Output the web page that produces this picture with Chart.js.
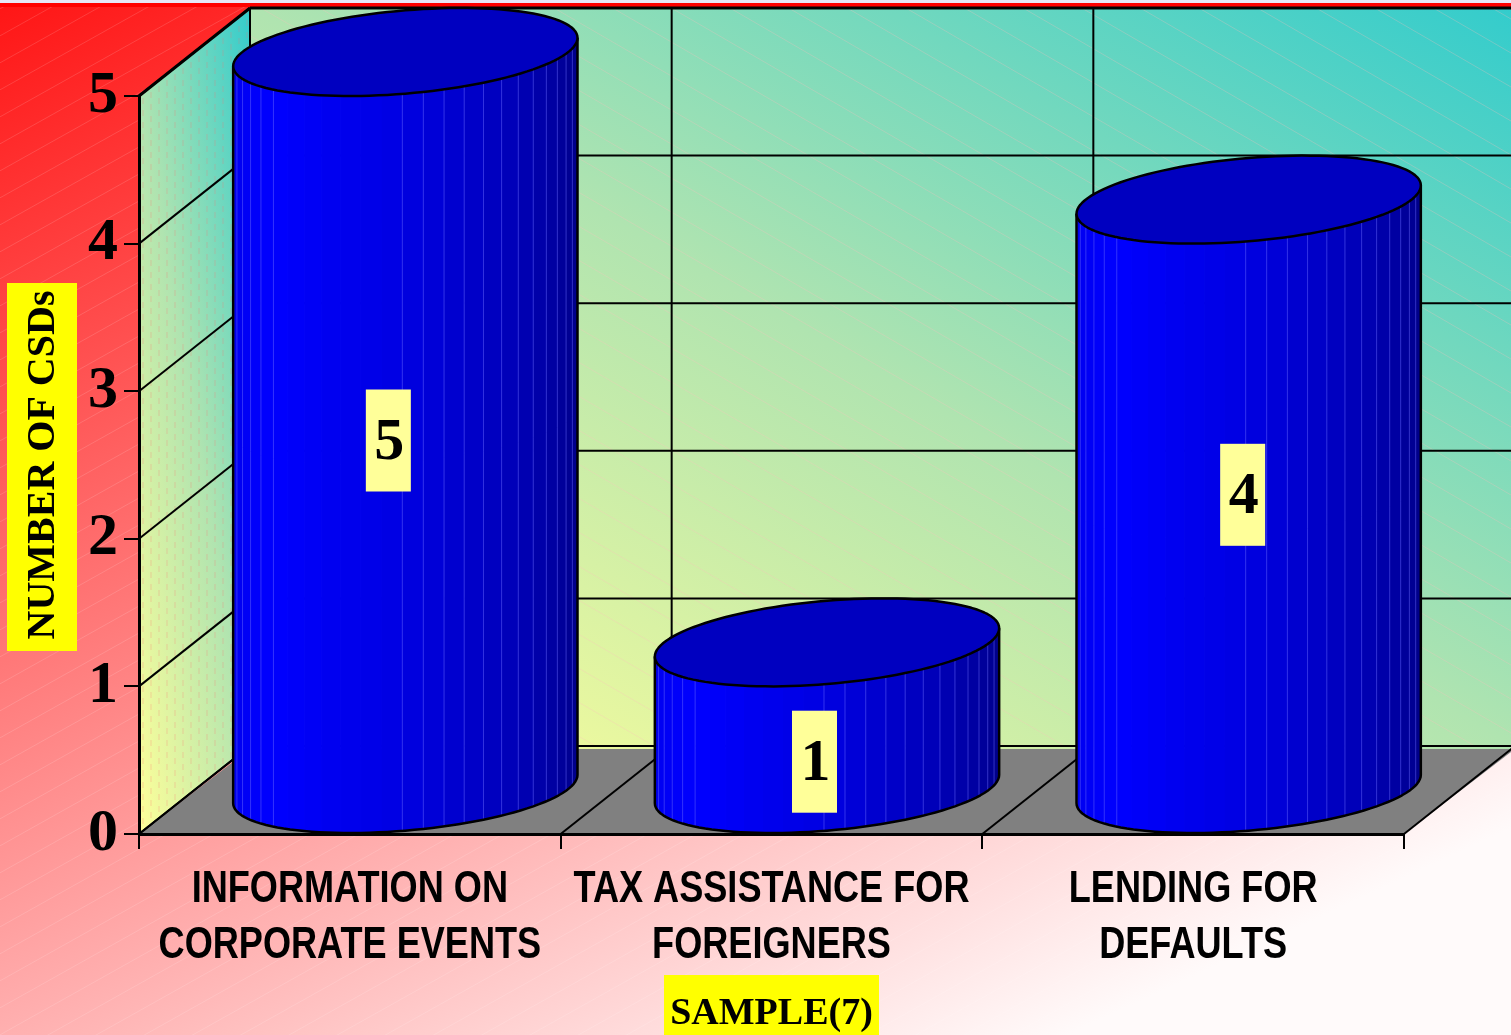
<!DOCTYPE html>
<html>
<head>
<meta charset="utf-8">
<style>html,body{margin:0;padding:0;background:#fff;overflow:hidden}canvas{display:block}</style>
<script src="https://cdn.jsdelivr.net/npm/chart.js@4"></script>
</head>
<body>
<canvas id="c" width="1511" height="1035"></canvas>
<script>
const categories = [
  ["INFORMATION ON", "CORPORATE EVENTS"],
  ["TAX ASSISTANCE FOR", "FOREIGNERS"],
  ["LENDING FOR", "DEFAULTS"]
];
const csdCounts = [5, 1, 4];
const yTickLabels = ["0", "1", "2", "3", "4", "5"];
const yAxisTitle = "NUMBER OF CSDs";
const xAxisTitle = "SAMPLE(7)";

const DEPTH_X = 111, DEPTH_Y = 88;
const LABEL_NUDGE = [[38.5, -24], [43, 2], [49.5, -43.5]];
const rad = d => d * Math.PI / 180;

function planeGradient(ctx, A, fAlongU, U, fAlongV, V, stops) {
  const det = U[0] * V[1] - U[1] * V[0];
  const gx = (fAlongU * V[1] - fAlongV * U[1]) / det;
  const gy = (U[0] * fAlongV - V[0] * fAlongU) / det;
  const n = gx * gx + gy * gy;
  const g = ctx.createLinearGradient(A[0], A[1], A[0] + gx / n, A[1] + gy / n);
  stops.forEach(s => g.addColorStop(s[0], s[1]));
  return g;
}
function poly(ctx, pts) {
  ctx.beginPath();
  pts.forEach((p, i) => i ? ctx.lineTo(p[0], p[1]) : ctx.moveTo(p[0], p[1]));
  ctx.closePath();
}
function hatch(ctx, w, h, slope, gap, color, lw) {
  ctx.save();
  ctx.strokeStyle = color; ctx.lineWidth = lw;
  for (let c = -Math.abs(slope) * w - h; c < h + Math.abs(slope) * w + h; c += gap) {
    ctx.beginPath();
    ctx.moveTo(0, c);
    ctx.lineTo(w, c + slope * w);
    ctx.stroke();
  }
  ctx.restore();
}

const scenePlugin = {
  id: "scene",
  beforeDraw(chart) {
    const { ctx, scales: { x, y }, width: W, height: H } = chart;
    const L = x.left, R = x.right, B = y.bottom, T = y.top;
    ctx.save();
    const bg = ctx.createLinearGradient(0, 0, 587, 1259);
    bg.addColorStop(0, "#ff1515");
    bg.addColorStop(1, "#fffafa");
    ctx.fillStyle = bg; ctx.fillRect(0, 0, W, H);
    hatch(ctx, W, H, -0.56, 27, "rgba(255,255,255,0.14)", 1);
    ctx.fillStyle = "#e6e6f6"; ctx.fillRect(0, 0, W, 3);
    ctx.fillStyle = "#ff0000"; ctx.fillRect(0, 3, W, 4);

    const stops = [[0, "#ffff99"], [0.5, "#b0e4b0"], [1, "#33cccc"]];
    const bx0 = L + DEPTH_X, bx1 = R + DEPTH_X, by0 = B - DEPTH_Y, by1 = T - DEPTH_Y;
    // left wall
    const lw = [[L, B], [L, T], [bx0, by1], [bx0, by0]];
    ctx.fillStyle = planeGradient(ctx, [L, B], 0.5, [0, T - B], 0.5, [DEPTH_X, -DEPTH_Y], stops);
    poly(ctx, lw); ctx.fill();
    ctx.save(); poly(ctx, lw); ctx.clip();
    ctx.strokeStyle = "rgba(255,110,110,0.28)"; ctx.lineWidth = 1; ctx.setLineDash([6, 6]);
    for (let px = L + 4; px < bx0; px += 8) {
      ctx.lineDashOffset = (px % 16 < 8) ? 0 : 6;
      ctx.beginPath(); ctx.moveTo(px, by1); ctx.lineTo(px, B); ctx.stroke();
    }
    ctx.restore();
    // back wall
    ctx.fillStyle = planeGradient(ctx, [bx0, by0], 0.5, [bx1 - bx0, 0], 0.5, [0, by1 - by0], stops);
    ctx.fillRect(bx0, by1, bx1 - bx0, by0 - by1 + 4);
    ctx.save(); ctx.beginPath(); ctx.rect(bx0, by1, bx1 - bx0, by0 - by1); ctx.clip();
    hatch(ctx, W, H, 0.58, 34, "rgba(255,190,190,0.28)", 1);
    ctx.restore();
    // floor
    ctx.fillStyle = "#808080";
    poly(ctx, [[L, B], [R, B], [R + DEPTH_X, by0 + 3], [bx0, by0 + 3]]); ctx.fill();

    // grid lines from the scales
    ctx.strokeStyle = "#000"; ctx.lineWidth = 2;
    const line = (a, b, c, d) => { ctx.beginPath(); ctx.moveTo(a, b); ctx.lineTo(c, d); ctx.stroke(); };
    y.ticks.forEach(t => {
      const py = y.getPixelForValue(t.value);
      line(L, py, bx0, py - DEPTH_Y);
      line(bx0, py - DEPTH_Y, bx1, py - DEPTH_Y);
    });
    const step = x.getPixelForValue(1) - x.getPixelForValue(0);
    for (let i = 0; i <= categories.length; i++) {
      const px = x.getPixelForValue(0) + (i - 0.5) * step;
      line(px, B, px + DEPTH_X, by0);
      if (i < categories.length) line(px + DEPTH_X, by0, px + DEPTH_X, by1);
    }
    ctx.lineWidth = 3;
    line(L, T, bx0, by1);
    line(bx0, by1, W, by1);

    // yellow boxes behind the axis titles
    ctx.fillStyle = "#ffff00";
    ctx.fillRect(7, 283, 70, 368);
    ctx.fillRect(664, 975, 215, 60);
    ctx.restore();
  },
  beforeDatasetDraw(chart, args) {
    const { ctx } = chart;
    chart.getDatasetMeta(args.index).data.forEach(bar => drawCylinder(ctx, bar));
    return false;
  },
  afterDatasetsDraw(chart) {
    const { ctx, scales: { x, y } } = chart;
    chart.getDatasetMeta(0).data.forEach((bar, i) => {
      const cx = bar.x + LABEL_NUDGE[i][0];
      const cy = (bar.y + bar.base) / 2 + LABEL_NUDGE[i][1];
      ctx.save();
      ctx.fillStyle = "#ffff99";
      ctx.fillRect(cx - 22.5, cy - 51, 45, 102);
      ctx.fillStyle = "#000";
      ctx.font = "bold 60px 'Liberation Serif'";
      ctx.textAlign = "center"; ctx.textBaseline = "middle";
      ctx.fillText(String(csdCounts[i]), cx + 1, cy + 3);
      ctx.restore();
    });
    // category labels: condensed to the reference's narrow face
    ctx.save();
    ctx.fillStyle = "#000";
    ctx.font = "bold 45px 'Liberation Sans'";
    ctx.textAlign = "center"; ctx.textBaseline = "alphabetic";
    categories.forEach((lines, i) => {
      lines.forEach((t, j) => {
        const w = ctx.measureText(t).width * 0.8025;
        ctx.fillText(t, x.getPixelForValue(i), y.bottom + 68 + j * 56, w);
      });
    });
    ctx.restore();
  }
};

function sideShade(deg) {
  let b;
  if (deg <= 90) b = 128 + 97 * deg / 90;
  else if (deg <= 140) b = 225 + 30 * (deg - 90) / 50;
  else b = 255 - 20 * (deg - 140) / 40;
  return "rgb(0,0," + Math.round(b) + ")";
}
function drawCylinder(ctx, bar) {
  const rx = bar.width / 2, dx = DEPTH_X / 2, dy = DEPTH_Y / 2;
  const ext = Math.hypot(rx, dx), t0 = Math.atan2(dx, rx);
  const cx = bar.x + dx, topY = bar.y - dy, botY = bar.base - dy;
  const at = (deg, cy) => [cx + ext * Math.cos(rad(-deg)), cy - dy * Math.sin(rad(-deg) + t0)];
  const STEP = 7;
  ctx.save();
  for (let d = 0; d < 180; d += STEP) {
    const e = Math.min(180, d + STEP);
    const pts = [at(d, topY), at(e, topY), at(e, botY), at(d, botY)];
    ctx.fillStyle = ctx.strokeStyle = sideShade((d + e) / 2);
    ctx.lineWidth = 1;
    poly(ctx, pts); ctx.fill(); ctx.stroke();
  }
  ctx.strokeStyle = "rgba(110,110,255,0.45)"; ctx.lineWidth = 1;
  for (let d = STEP * 2; d < 180; d += STEP) {
    if ((d > 84 && d < 90) || (d > 91 && d < 136)) continue;
    const a = at(d, topY), b = at(d, botY);
    ctx.beginPath(); ctx.moveTo(a[0], a[1]); ctx.lineTo(b[0], b[1]); ctx.stroke();
  }
  ctx.strokeStyle = "#000"; ctx.lineWidth = 2.5; ctx.lineJoin = "round";
  ctx.beginPath();
  let p = at(180, topY); ctx.moveTo(p[0], p[1]);
  for (let d = 180; d >= 0; d -= 3) { p = at(d, botY); ctx.lineTo(p[0], p[1]); }
  p = at(0, topY); ctx.lineTo(p[0], p[1]);
  ctx.stroke();
  ctx.beginPath();
  for (let d = 0; d < 360; d += 3) {
    p = at(d, topY);
    d ? ctx.lineTo(p[0], p[1]) : ctx.moveTo(p[0], p[1]);
  }
  ctx.closePath();
  ctx.fillStyle = "#0000c0"; ctx.fill(); ctx.stroke();
  ctx.restore();
}

new Chart(document.getElementById("c"), {
  type: "bar",
  data: {
    labels: categories,
    datasets: [{
      label: yAxisTitle,
      data: csdCounts,
      backgroundColor: "#0000ff",
      categoryPercentage: 1,
      barPercentage: 0.773
    }]
  },
  plugins: [scenePlugin],
  options: {
    responsive: false,
    animation: false,
    devicePixelRatio: 1,
    layout: { padding: { left: 0, right: 107, top: 96, bottom: 0 } },
    plugins: { legend: { display: false }, tooltip: { enabled: false } },
    scales: {
      x: {
        afterFit(s) { s.height = 201; },
        border: { display: true, color: "#000", width: 3 },
        grid: { color: "#000", lineWidth: 2, drawOnChartArea: false, drawTicks: true, tickLength: 15, offset: true },
        ticks: { display: false },
        title: {
          display: true, text: xAxisTitle, color: "#000",
          font: { family: "'Liberation Serif'", weight: "bold", size: 38, lineHeight: 1.105 },
          padding: { top: 0, bottom: 0 }
        }
      },
      y: {
        min: 0, max: 5,
        afterFit(s) { s.width = 139; },
        afterBuildTicks(s) { s.ticks = yTickLabels.map(v => ({ value: Number(v) })); },
        border: { display: true, color: "#000", width: 3 },
        grid: { color: "#000", lineWidth: 2, drawOnChartArea: false, drawTicks: true, tickLength: 15 },
        ticks: {
          color: "#000", padding: 6,
          font: { family: "'Liberation Serif'", weight: "bold", size: 60 },
          callback: v => String(v)
        },
        title: {
          display: true, text: yAxisTitle, color: "#000",
          font: { family: "'Liberation Serif'", weight: "bold", size: 40, lineHeight: 1.2 },
          padding: { top: 20, bottom: 0 }
        }
      }
    }
  }
});
</script>
</body>
</html>
